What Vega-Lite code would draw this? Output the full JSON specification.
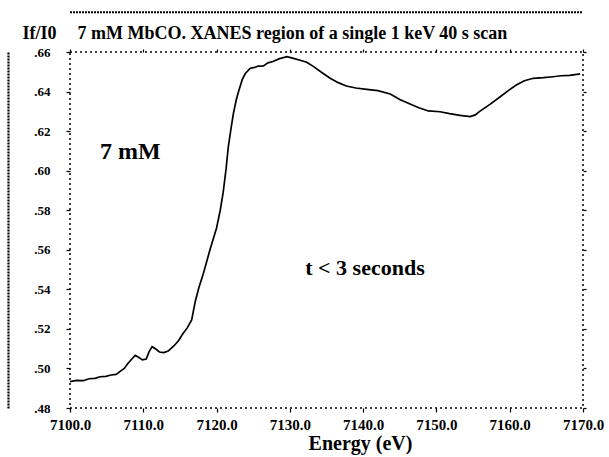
{
  "$schema": "https://vega.github.io/schema/vega-lite/v6.json",
  "width": 513,
  "height": 356,
  "autosize": {"type": "none"},
  "padding": {"left": 70, "top": 52, "right": 26, "bottom": 49},
  "background": "white",
  "config": {
    "view": {"stroke": "black", "strokeDash": [2, 3], "strokeWidth": 1.5},
    "font": "Liberation Serif",
    "axis": {"grid": false, "domain": false, "tickColor": "black", "tickWidth": 1.2, "labelColor": "black", "titleColor": "black", "labelFont": "Liberation Serif", "titleFont": "Liberation Serif", "labelFontWeight": "bold", "titleFontWeight": "bold"}
  },
  "resolve": {"axis": {"x": "independent", "y": "independent"}},
  "layer": [
    {
      "data": {"values": [
        {"energy": 7100.0, "ratio": 0.4933},
        {"energy": 7100.9, "ratio": 0.4940},
        {"energy": 7101.8, "ratio": 0.4938},
        {"energy": 7102.6, "ratio": 0.4948},
        {"energy": 7103.4, "ratio": 0.4950},
        {"energy": 7104.1, "ratio": 0.4958},
        {"energy": 7104.9, "ratio": 0.4960},
        {"energy": 7105.6, "ratio": 0.4967},
        {"energy": 7106.3, "ratio": 0.4970},
        {"energy": 7106.8, "ratio": 0.4984},
        {"energy": 7107.4, "ratio": 0.5000},
        {"energy": 7107.9, "ratio": 0.5025},
        {"energy": 7108.5, "ratio": 0.5050},
        {"energy": 7108.9, "ratio": 0.5066},
        {"energy": 7109.4, "ratio": 0.5055},
        {"energy": 7109.9, "ratio": 0.5043},
        {"energy": 7110.4, "ratio": 0.5048},
        {"energy": 7110.8, "ratio": 0.5085},
        {"energy": 7111.2, "ratio": 0.5110},
        {"energy": 7111.7, "ratio": 0.5098},
        {"energy": 7112.2, "ratio": 0.5083},
        {"energy": 7112.8, "ratio": 0.5080},
        {"energy": 7113.4, "ratio": 0.5088},
        {"energy": 7114.2, "ratio": 0.5115},
        {"energy": 7114.8, "ratio": 0.5140},
        {"energy": 7115.4, "ratio": 0.5175},
        {"energy": 7116.0, "ratio": 0.5205},
        {"energy": 7116.6, "ratio": 0.5245},
        {"energy": 7117.1, "ratio": 0.5340},
        {"energy": 7117.6, "ratio": 0.5410},
        {"energy": 7118.2, "ratio": 0.5480},
        {"energy": 7119.1, "ratio": 0.5600},
        {"energy": 7120.0, "ratio": 0.5710},
        {"energy": 7120.5, "ratio": 0.5800},
        {"energy": 7120.9, "ratio": 0.5890},
        {"energy": 7121.3, "ratio": 0.6010},
        {"energy": 7121.6, "ratio": 0.6120},
        {"energy": 7122.0, "ratio": 0.6220},
        {"energy": 7122.3, "ratio": 0.6290},
        {"energy": 7122.7, "ratio": 0.6360},
        {"energy": 7123.0, "ratio": 0.6400},
        {"energy": 7123.5, "ratio": 0.6460},
        {"energy": 7123.9, "ratio": 0.6490},
        {"energy": 7124.6, "ratio": 0.6518},
        {"energy": 7125.2, "ratio": 0.6522},
        {"energy": 7125.7, "ratio": 0.6529},
        {"energy": 7126.4, "ratio": 0.6530},
        {"energy": 7127.0, "ratio": 0.6545},
        {"energy": 7127.7, "ratio": 0.6552},
        {"energy": 7128.5, "ratio": 0.6565},
        {"energy": 7129.6, "ratio": 0.6576},
        {"energy": 7130.5, "ratio": 0.6568},
        {"energy": 7131.4, "ratio": 0.6558},
        {"energy": 7132.3, "ratio": 0.6548},
        {"energy": 7133.3, "ratio": 0.6525},
        {"energy": 7134.4, "ratio": 0.6495},
        {"energy": 7135.5, "ratio": 0.6467},
        {"energy": 7136.6, "ratio": 0.6445},
        {"energy": 7137.7, "ratio": 0.6428},
        {"energy": 7139.0, "ratio": 0.6418},
        {"energy": 7140.5, "ratio": 0.6411},
        {"energy": 7142.0, "ratio": 0.6405},
        {"energy": 7143.7, "ratio": 0.6388},
        {"energy": 7145.0, "ratio": 0.6360},
        {"energy": 7146.4, "ratio": 0.6337},
        {"energy": 7147.6, "ratio": 0.6318},
        {"energy": 7148.9, "ratio": 0.6302},
        {"energy": 7150.5, "ratio": 0.6298},
        {"energy": 7151.8, "ratio": 0.6288},
        {"energy": 7153.2, "ratio": 0.6280},
        {"energy": 7154.6, "ratio": 0.6273},
        {"energy": 7155.3, "ratio": 0.6282},
        {"energy": 7155.9, "ratio": 0.6300},
        {"energy": 7157.3, "ratio": 0.6335},
        {"energy": 7158.7, "ratio": 0.6374},
        {"energy": 7159.8, "ratio": 0.6405},
        {"energy": 7160.9, "ratio": 0.6433},
        {"energy": 7162.0, "ratio": 0.6455},
        {"energy": 7163.2, "ratio": 0.6467},
        {"energy": 7164.6, "ratio": 0.6470},
        {"energy": 7165.9, "ratio": 0.6475},
        {"energy": 7167.0, "ratio": 0.6480},
        {"energy": 7168.2, "ratio": 0.6482},
        {"energy": 7169.6, "ratio": 0.6489}
      ]},
      "mark": {"type": "line", "color": "black", "strokeWidth": 1.7, "interpolate": "linear"},
      "encoding": {
        "x": {"field": "energy", "type": "quantitative",
              "scale": {"domain": [7100, 7170], "nice": false, "zero": false},
              "axis": {"orient": "bottom", "values": [7100, 7110, 7120, 7130, 7140, 7150, 7160, 7170], "format": ".1f", "labelFont": "Liberation Serif", "labelFontWeight": "bold", "labelFontSize": 15, "tickSize": 4, "labelPadding": 5, "labelFlush": false,
                       "title": "Energy (eV)", "titleFont": "Liberation Serif", "titleFontSize": 20, "titleX": 290, "titleY": 41, "titleAlign": "center", "titleBaseline": "alphabetic"}},
        "y": {"field": "ratio", "type": "quantitative",
              "scale": {"domain": [0.48, 0.66], "nice": false, "zero": false},
              "axis": {"orient": "left", "values": [0.48, 0.5, 0.52, 0.54, 0.56, 0.58, 0.6, 0.62, 0.64, 0.66], "labelExpr": "replace(format(datum.value, '.2f'), '0.', '.')", "labelFont": "Liberation Serif", "labelFontWeight": "bold", "labelFontSize": 13, "tickSize": 4, "labelPadding": 16, "labelFlush": false,
                       "title": "If/I0", "titleFont": "Liberation Serif", "titleFontSize": 18, "titleAngle": 0, "titleX": -48, "titleY": -14, "titleAlign": "left", "titleBaseline": "alphabetic"}}
      }
    },
    {
      "data": {"values": [{"k": 0}]},
      "mark": {"type": "text", "text": "7 mM", "font": "Liberation Serif", "fontWeight": "bold", "fontSize": 24, "align": "left", "baseline": "alphabetic", "color": "black"},
      "encoding": {
        "x": {"datum": 7104.1, "type": "quantitative",
              "scale": {"domain": [7100, 7170], "nice": false, "zero": false},
              "axis": {"orient": "top", "values": [7100, 7110, 7120, 7130, 7140, 7150, 7160, 7170], "labels": false, "tickSize": 3,
                       "title": "7 mM MbCO. XANES region of a single 1 keV 40 s scan", "titleFont": "Liberation Serif", "titleFontSize": 18, "titleX": 7, "titleY": -14, "titleAlign": "left", "titleBaseline": "alphabetic"}},
        "y": {"datum": 0.6059, "type": "quantitative",
              "scale": {"domain": [0.48, 0.66], "nice": false, "zero": false},
              "axis": {"orient": "right", "values": [0.48, 0.5, 0.52, 0.54, 0.56, 0.58, 0.6, 0.62, 0.64, 0.66], "labels": false, "tickSize": 3, "title": null}}
      }
    },
    {
      "data": {"values": [{"k": 0}]},
      "mark": {"type": "text", "text": "t < 3 seconds", "font": "Liberation Serif", "fontWeight": "bold", "fontSize": 22, "align": "left", "baseline": "alphabetic", "color": "black"},
      "encoding": {
        "x": {"datum": 7132.1, "type": "quantitative", "axis": null},
        "y": {"datum": 0.5473, "type": "quantitative", "axis": null}
      }
    },
    {
      "data": {"values": [{"k": 0}]},
      "mark": {"type": "rule", "color": "black", "strokeWidth": 2.2, "strokeDash": [2, 1], "clip": false},
      "encoding": {
        "x": {"datum": 7100, "type": "quantitative", "axis": null},
        "x2": {"datum": 7170, "type": "quantitative"},
        "y": {"datum": 0.6801, "type": "quantitative",
              "axis": {"orient": "left", "offset": 62, "domain": true, "domainColor": "black", "domainWidth": 2.2, "domainDash": [2, 1], "ticks": false, "labels": false, "title": null}}
      }
    }
  ]
}
